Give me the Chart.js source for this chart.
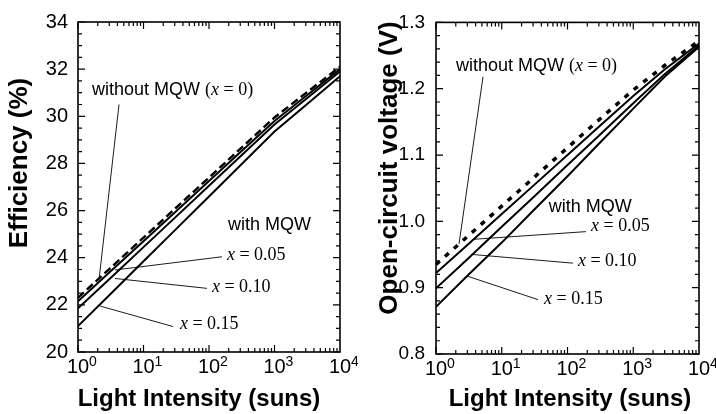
<!DOCTYPE html>
<html>
<head>
<meta charset="utf-8">
<script src="https://cdn.jsdelivr.net/npm/chart.js@4.4.1/dist/chart.umd.min.js"></script>
<style>
  body { margin: 0; background: #fff; }
  #wrap { position: relative; width: 716px; height: 414px; }
  canvas { position: absolute; top: 0; }
</style>
</head>
<body>
<div id="wrap">
  <canvas id="eff" width="358" height="414" style="left:0"></canvas>
  <canvas id="voc" width="358" height="414" style="left:358px"></canvas>
</div>
<script>
// light intensity (suns)
var intensity = [1, 3, 10, 30, 100, 300, 1000, 3000, 10000];

// efficiency (%)
var effX0  = [22.3, 23.52, 24.85, 26.07, 27.4, 28.62, 29.95, 30.98, 32.1];
var effX05 = [22.15, 23.37, 24.7, 25.92, 27.25, 28.47, 29.8, 30.85, 32.0];
var effX10 = [21.85, 23.09, 24.45, 25.69, 27.05, 28.29, 29.65, 30.72, 31.9];
var effX15 = [21.1, 22.41, 23.85, 25.16, 26.6, 27.91, 29.35, 30.47, 31.7];

// open-circuit voltage (V)
var vocX0  = [0.935, 0.977, 1.023, 1.065, 1.111, 1.153, 1.198, 1.235, 1.272];
var vocX05 = [0.922, 0.9645, 1.011, 1.0535, 1.100, 1.1425, 1.189, 1.229, 1.268];
var vocX10 = [0.899, 0.943, 0.992, 1.036, 1.085, 1.129, 1.178, 1.222, 1.265];
var vocX15 = [0.871, 0.918, 0.968, 1.016, 1.068, 1.117, 1.170, 1.218, 1.263];

// x tick labels: 10^n
var xDecades = [1, 10, 100, 1000, 10000];
var xExponents = ['0', '1', '2', '3', '4'];

var SANS = '"Liberation Sans", Arial, Helvetica, sans-serif';
var SERIF = '"Liberation Serif", "Times New Roman", serif';
var runFonts = {
  sans: '18px ' + SANS,
  serif: '18px ' + SERIF,
  ital: 'italic 18px ' + SERIF
};

function pts(ys) {
  return intensity.map(function(x, i) { return { x: x, y: ys[i] }; });
}

function drawRuns(ctx, runs, x, y) {
  runs.forEach(function(r) {
    ctx.font = runFonts[r[0]];
    ctx.fillText(r[1], x, y);
    x += ctx.measureText(r[1]).width;
  });
}

var decor = {
  id: 'decor',
  afterDraw: function(chart, args, o) {
    var ctx = chart.ctx, a = chart.chartArea;
    var xs = chart.scales.x, ys = chart.scales.y;
    ctx.save();
    ctx.strokeStyle = '#000';
    ctx.fillStyle = '#000';

    // inward ticks on all four sides
    ctx.lineWidth = 1.2;
    ctx.beginPath();
    for (var d = 0; d < 4; d++) {
      for (var m = 1; m <= 9; m++) {
        var px = xs.getPixelForValue(Math.pow(10, d) * m);
        var len = m === 1 ? 7 : 4;
        ctx.moveTo(px, a.bottom); ctx.lineTo(px, a.bottom - len);
        ctx.moveTo(px, a.top); ctx.lineTo(px, a.top + len);
      }
    }
    var n = Math.round((ys.max - ys.min) / o.minorStep);
    for (var i = 0; i <= n; i++) {
      var py = ys.getPixelForValue(ys.min + i * o.minorStep);
      var l = (i % o.perMajor === 0) ? 7 : 4;
      ctx.moveTo(a.left, py); ctx.lineTo(a.left + l, py);
      ctx.moveTo(a.right, py); ctx.lineTo(a.right - l, py);
    }
    ctx.stroke();

    // frame
    ctx.lineWidth = 1.6;
    ctx.strokeRect(a.left, a.top, a.right - a.left, a.bottom - a.top);

    // x tick labels 10^n
    ctx.textBaseline = 'alphabetic';
    xDecades.forEach(function(v, k) {
      var px = xs.getPixelForValue(v);
      ctx.font = '20px ' + SANS;
      var w = ctx.measureText('10').width;
      ctx.textAlign = 'left';
      ctx.fillText('10', px - w / 2, a.bottom + 21);
      ctx.font = '14px ' + SANS;
      ctx.fillText(xExponents[k], px + w / 2, a.bottom + 14);
    });

    // axis titles
    ctx.font = 'bold 24px ' + SANS;
    ctx.textAlign = 'center';
    ctx.fillText('Light Intensity (suns)', o.xTitleX, 406);
    ctx.save();
    ctx.font = 'bold ' + o.yTitleSize + 'px ' + SANS;
    ctx.translate(o.yTitleX, o.yTitleY);
    ctx.rotate(-Math.PI / 2);
    ctx.fillText(o.yTitle, 0, 0);
    ctx.restore();

    // annotations with leader lines
    ctx.textAlign = 'left';
    ctx.textBaseline = 'middle';
    ctx.lineWidth = 0.9;
    o.notes.forEach(function(nt) {
      drawRuns(ctx, nt.runs, xs.getPixelForValue(nt.at[0]), ys.getPixelForValue(nt.at[1]));
      if (nt.from) {
        ctx.beginPath();
        ctx.moveTo(xs.getPixelForValue(nt.from[0]), ys.getPixelForValue(nt.from[1]));
        ctx.lineTo(xs.getPixelForValue(nt.to[0]), ys.getPixelForValue(nt.to[1]));
        ctx.stroke();
      }
    });
    ctx.restore();
  }
};

function makeChart(id, series, yCfg, pad, xHeight, deco) {
  var dashes = deco.dash;
  return new Chart(document.getElementById(id), {
    type: 'line',
    data: {
      datasets: series.map(function(s, i) {
        return {
          data: pts(s),
          borderColor: '#000',
          borderWidth: i === 0 ? deco.dashWidth : 2,
          borderDash: i === 0 ? dashes : [],
          pointRadius: 0,
          tension: 0,
          fill: false
        };
      })
    },
    options: {
      responsive: false,
      animation: false,
      layout: { padding: pad },
      plugins: { legend: { display: false }, tooltip: { enabled: false }, decor: deco },
      scales: {
        x: {
          type: 'logarithmic', min: 1, max: 10000,
          grid: { display: false }, border: { display: false },
          ticks: { display: false },
          afterFit: function(s) { s.height = xHeight; }
        },
        y: {
          type: 'linear', min: yCfg.min, max: yCfg.max,
          grid: { display: false, drawTicks: false }, border: { display: false },
          ticks: {
            stepSize: yCfg.step, color: '#000', padding: yCfg.pad,
            font: { family: SANS, size: yCfg.size },
            callback: yCfg.fmt
          },
          afterFit: function(s) { s.width = 78; }
        }
      }
    },
    plugins: [decor]
  });
}

makeChart('eff', [effX0, effX05, effX10, effX15],
  { min: 20, max: 34, step: 2, size: 20, pad: 10, fmt: function(v) { return String(v); } },
  { top: 16, right: 18, left: 0, bottom: 0 }, 62,
  {
    dash: [8, 4], dashWidth: 2.4,
    minorStep: 0.5, perMajor: 4,
    yTitle: 'Efficiency (%)', yTitleSize: 26, yTitleX: 27, yTitleY: 163, xTitleX: 199,
    notes: [
      { runs: [['sans', 'without MQW '], ['serif', '('], ['ital', 'x'], ['serif', ' = 0)']],
        at: [1.64, 31.1], from: [4.23, 30.5], to: [2.1, 23.1] },
      { runs: [['sans', 'with MQW']], at: [195, 25.4] },
      { runs: [['ital', 'x'], ['serif', ' = 0.05']], at: [188, 24.1], from: [158, 24.04], to: [3.67, 23.48] },
      { runs: [['ital', 'x'], ['serif', ' = 0.10']], at: [111, 22.75], from: [93, 22.7], to: [3.67, 23.12] },
      { runs: [['ital', 'x'], ['serif', ' = 0.15']], at: [36, 21.17], from: [28.2, 21.08], to: [2.17, 21.95] }
    ]
  });

makeChart('voc', [vocX0, vocX05, vocX10, vocX15],
  { min: 0.8, max: 1.3, step: 0.1, size: 19, pad: 11, fmt: function(v) { return v.toFixed(1); } },
  { top: 18, right: 17, left: 0, bottom: 0 }, 60,
  {
    dash: [5, 7], dashWidth: 3.5,
    minorStep: 0.02, perMajor: 5,
    yTitle: 'Open-circuit voltage (V)', yTitleSize: 26, yTitleX: 39, yTitleY: 168, xTitleX: 212,
    notes: [
      { runs: [['sans', 'without MQW '], ['serif', '('], ['ital', 'x'], ['serif', ' = 0)']],
        at: [2.01, 1.2345], from: [5.19, 1.218], to: [2.24, 0.966] },
      { runs: [['sans', 'with MQW']], at: [52, 1.022] },
      { runs: [['ital', 'x'], ['serif', ' = 0.05']], at: [228, 0.992], from: [191, 0.9845], to: [3.78, 0.973] },
      { runs: [['ital', 'x'], ['serif', ' = 0.10']], at: [144, 0.940], from: [121, 0.937], to: [3.65, 0.950] },
      { runs: [['ital', 'x'], ['serif', ' = 0.15']], at: [44, 0.883], from: [35.6, 0.882], to: [3.07, 0.917] }
    ]
  });
</script>
</body>
</html>
